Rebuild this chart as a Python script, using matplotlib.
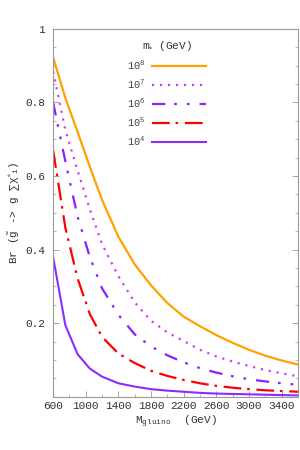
import matplotlib
matplotlib.use("Agg")
import matplotlib.pyplot as plt

MONO = "Liberation Mono"
plt.rcParams.update(
    {
        "font.family": [MONO, "DejaVu Sans"],
        "font.size": 8,
        "mathtext.fontset": "custom",
        "mathtext.rm": MONO,
        "mathtext.it": MONO,
        "mathtext.fallback": "stixsans",
    }
)

# gluino mass (GeV)
m_gluino = [600, 750, 900, 1050, 1200, 1400, 1600, 1800, 2000, 2200,
            2400, 2600, 2800, 3000, 3200, 3400, 3600]

br_1e8 = [0.923, 0.812, 0.72, 0.625, 0.535, 0.435, 0.36, 0.303, 0.255, 0.218,
          0.192, 0.168, 0.147, 0.128, 0.112, 0.099, 0.088]
br_1e7 = [0.884, 0.725, 0.615, 0.51, 0.415, 0.328, 0.257, 0.207, 0.175, 0.152,
          0.128, 0.11, 0.096, 0.084, 0.073, 0.064, 0.056]
br_1e6 = [0.80, 0.64, 0.49, 0.38, 0.295, 0.223, 0.17, 0.137, 0.113, 0.094,
          0.078, 0.066, 0.056, 0.048, 0.042, 0.037, 0.033]
br_1e5 = [0.67, 0.46, 0.322, 0.225, 0.163, 0.118, 0.092, 0.071, 0.057, 0.046,
          0.037, 0.030, 0.025, 0.021, 0.018, 0.016, 0.014]
br_1e4 = [0.38, 0.195, 0.116, 0.077, 0.055, 0.037, 0.028, 0.021, 0.017, 0.014,
          0.011, 0.009, 0.008, 0.007, 0.006, 0.005, 0.004]

labels = ["$10^{8}$", "$10^{7}$", "$10^{6}$", "$10^{5}$", "$10^{4}$"]
x_ticks = [600, 1000, 1400, 1800, 2200, 2600, 3000, 3400]
y_ticks = [0.2, 0.4, 0.6, 0.8, 1.0]
y_ticklabels = ["0.2", "0.4", "0.6", "0.8", "1"]

styles = [
    ("#FFA200", "-", 1.6),
    ("#D23CFF", (0, (1, 2.6)), 1.6),
    ("#8822FF", (0, (6, 4, 1.2, 4.5, 1.2, 4.5)), 1.6),
    ("#FF0000", (0, (8, 2.6, 1.2, 3.0)), 1.6),
    ("#8A2BFF", "-", 1.5),
]

fig = plt.figure(figsize=(3, 4.5), dpi=100)
ax = fig.add_axes([0.177, 0.118, 0.816, 0.818])

series = [br_1e8, br_1e7, br_1e6, br_1e5, br_1e4]
for values, label, (color, ls, lw) in zip(series, labels, styles):
    ax.plot(m_gluino, values, color=color, linestyle=ls, lw=lw, label=label)

ax.set_xlim(600, 3600)
ax.set_ylim(0, 1)
ax.set_xticks(x_ticks)
ax.set_xticks(range(600, 3601, 200), minor=True)
ax.set_yticks(y_ticks)
ax.set_yticklabels(y_ticklabels)
ax.set_yticks([i * 0.05 for i in range(21)], minor=True)
ax.tick_params(which="both", direction="in", colors="#999999", labelcolor="#333333",
               right=True, top=False)
ax.tick_params(which="major", length=4, width=0.6)
ax.tick_params(which="minor", length=2, width=0.5)
ax.tick_params(axis="x", labelsize=8, pad=3)
ax.tick_params(axis="y", labelsize=8, pad=6)
for spine in ax.spines.values():
    spine.set_color("#999999")
    spine.set_linewidth(0.8)

ax.set_xlabel(r"M$_{\mathrm{gluino}}$  (GeV)", fontsize=8, color="#333333", labelpad=2)
ax.set_ylabel(r"Br $(\tilde{\mathrm{g}}$ -> g $\sum\chi^{\circ}{}_{\mathrm{i}})$",
              fontsize=8, color="#333333", labelpad=2)

leg = ax.legend(title=r"m$_{\circ}$ (GeV)", frameon=False, markerfirst=False,
                loc="upper left", bbox_to_anchor=(0.285, 0.984), fontsize=7.5,
                title_fontsize=8, handlelength=5.2, handletextpad=0.6,
                labelspacing=0.55, borderaxespad=0)
leg.get_title().set_color("#333333")
for t in leg.get_texts():
    t.set_color("#444444")

fig.savefig("out.png", dpi=100)
